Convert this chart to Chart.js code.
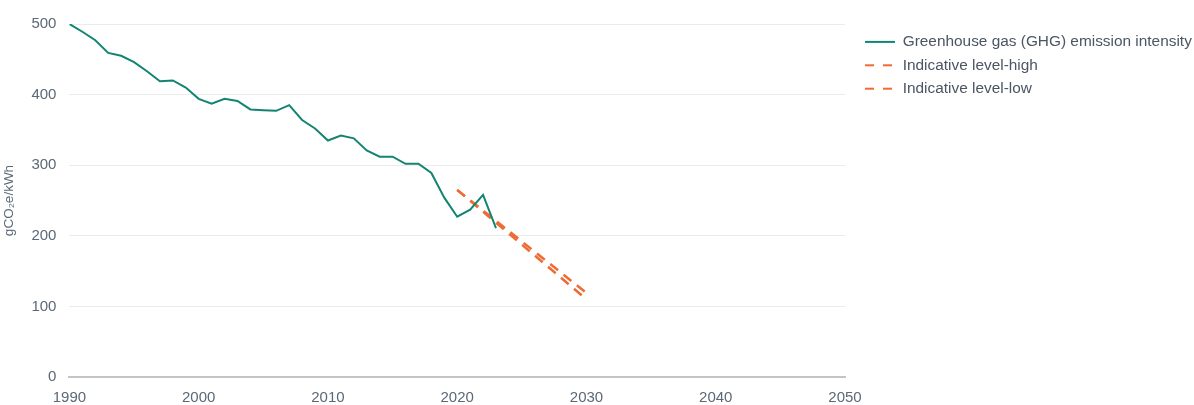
<!DOCTYPE html>
<html>
<head>
<meta charset="utf-8">
<script src="https://cdn.jsdelivr.net/npm/chart.js@4.4.1/dist/chart.umd.min.js"></script>
<style>
  html, body { margin: 0; padding: 0; background: #fff; }
  #wrap { width: 1194px; height: 405px; position: relative; }
</style>
</head>
<body>
<div id="wrap"><canvas id="ghgChart"></canvas></div>
<script>
// Data
const years = [1990, 1991, 1992, 1993, 1994, 1995, 1996, 1997, 1998, 1999,
               2000, 2001, 2002, 2003, 2004, 2005, 2006, 2007, 2008, 2009,
               2010, 2011, 2012, 2013, 2014, 2015, 2016, 2017, 2018, 2019,
               2020, 2021, 2022, 2023];
const ghgIntensity = [500, 489, 477, 459, 455, 446, 433, 419, 420, 410,
                      394, 387, 394, 391, 379, 378, 377, 385, 364, 352,
                      335, 342, 338, 321, 312, 312, 302, 302, 289, 254,
                      227, 237, 258, 211];
const indicativeYears = [2020, 2030];
const indicativeHigh = [265, 119];
const indicativeLow = [265, 110];
const xTicks = [1990, 2000, 2010, 2020, 2030, 2040, 2050];

const green = '#138472';
const orange = '#ee6c34';
const tickColor = '#5b6876';
const fontFamily = 'Liberation Sans, Arial, sans-serif';

function pairs(xs, ys) {
    return xs.map(function(x, i) { return { x: x, y: ys[i] }; });
}

// nudge the legend right so its samples sit a bit away from the plot
const legendShift = {
    id: 'legendShift',
    afterLayout: function(chart) {
        if (chart.legend) {
            chart.legend.left += 12;
            chart.legend.right += 12;
        }
    }
};

const ctx = document.getElementById('ghgChart').getContext('2d');
const chart = new Chart(ctx, {
    type: 'line',
    data: {
        datasets: [{
            label: 'Greenhouse gas (GHG) emission intensity',
            data: pairs(years, ghgIntensity),
            borderColor: green,
            backgroundColor: green,
            borderWidth: 2,
            pointRadius: 0,
            tension: 0
        }, {
            label: 'Indicative level-high',
            data: pairs(indicativeYears, indicativeHigh),
            borderColor: orange,
            backgroundColor: orange,
            borderWidth: 2.5,
            borderDash: [10, 7],
            pointRadius: 0
        }, {
            label: 'Indicative level-low',
            data: pairs(indicativeYears, indicativeLow),
            borderColor: orange,
            backgroundColor: orange,
            borderWidth: 2.5,
            borderDash: [10, 7],
            pointRadius: 0
        }]
    },
    plugins: [legendShift],
    options: {
        responsive: true,
        maintainAspectRatio: false,
        animation: false,
        layout: { padding: { top: 24, left: 1, right: 12, bottom: -6 } },
        plugins: {
            tooltip: { enabled: false },
            legend: {
                position: 'right',
                align: 'start',
                maxWidth: 337,
                title: { display: true, text: ' ', font: { size: 1 }, padding: 0.5 },
                labels: {
                    usePointStyle: true,
                    pointStyle: 'line',
                    pointStyleWidth: 30,
                    padding: 8,
                    color: '#4b5563',
                    font: { family: fontFamily, size: 15.4 },
                    generateLabels: function(chart) {
                        const items = Chart.defaults.plugins.legend.labels.generateLabels(chart);
                        items.forEach(function(item) {
                            const ds = chart.data.datasets[item.datasetIndex];
                            item.lineDash = ds.borderDash ? [9, 9] : [];
                            item.lineWidth = 2;
                        });
                        return items;
                    }
                }
            }
        },
        scales: {
            x: {
                type: 'linear',
                min: 1990,
                max: 2050,
                afterBuildTicks: function(axis) {
                    axis.ticks = xTicks.map(function(v) { return { value: v }; });
                },
                grid: { display: false },
                border: { display: true, color: '#c4c4c4', width: 2 },
                ticks: {
                    color: tickColor,
                    padding: 4,
                    maxRotation: 0,
                    font: { family: fontFamily, size: 15 },
                    callback: function(v) { return String(v); }
                }
            },
            y: {
                min: 0,
                max: 500,
                ticks: {
                    stepSize: 100,
                    color: tickColor,
                    padding: 13,
                    font: { family: fontFamily, size: 15 }
                },
                grid: { color: '#ebebeb', drawTicks: false },
                border: { display: false },
                title: {
                    display: true,
                    text: 'gCO₂e/kWh',
                    color: tickColor,
                    padding: { top: 0, bottom: 1.2 },
                    font: { family: fontFamily, size: 13.5 }
                }
            }
        }
    }
});
</script>
</body>
</html>
